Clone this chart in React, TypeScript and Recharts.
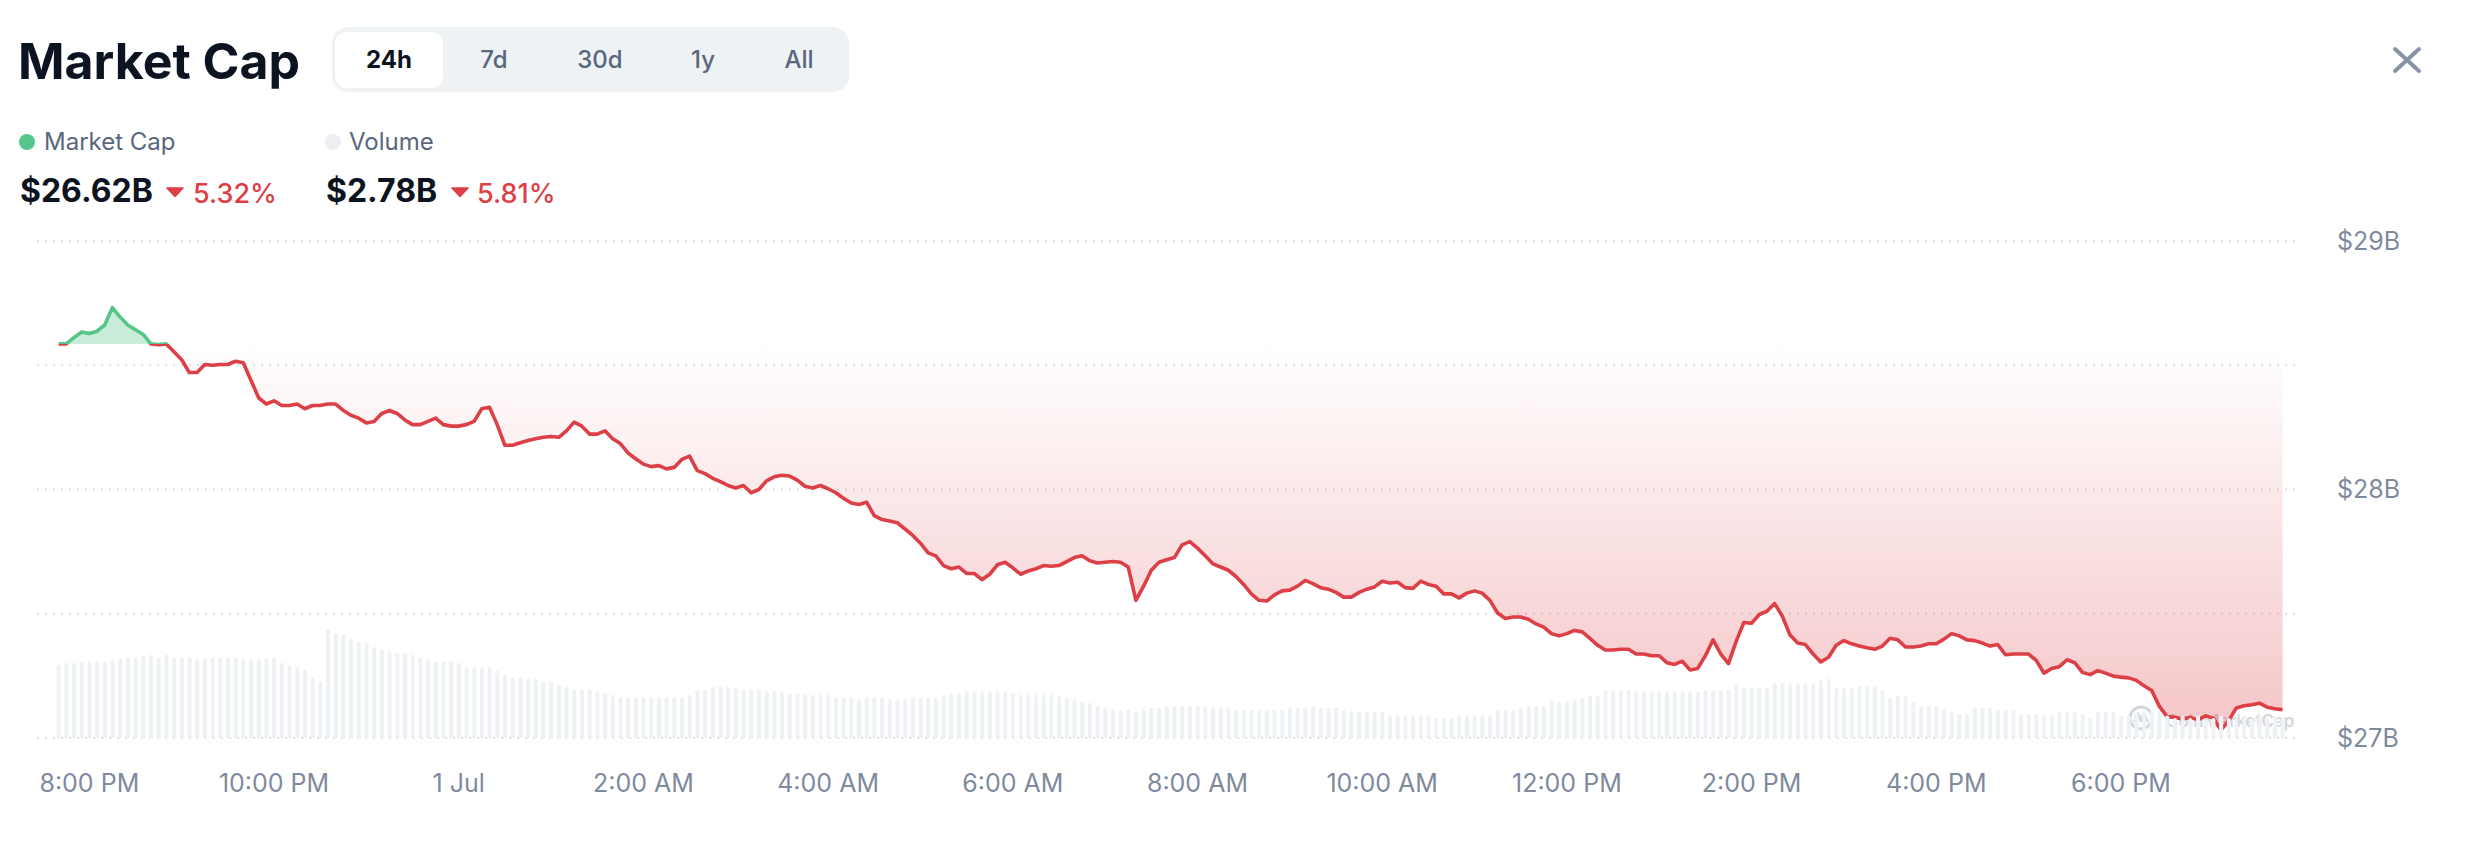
import { ComposedChart, Area, Bar, XAxis, YAxis, CartesianGrid } from 'recharts';

// 5-minute samples starting 30 Jun, 7:40 PM (minutes counted from 30 Jun 00:00)
const START_MINUTE = 19 * 60 + 40;
const STEP_MINUTES = 5;

// market cap, $B
const capValues = [
  28.586, 28.586, 28.611, 28.634, 28.628, 28.637, 28.662, 28.732, 28.694, 28.662,
  28.643, 28.624, 28.586, 28.583, 28.586, 28.554, 28.522, 28.471, 28.471, 28.503,
  28.5, 28.503, 28.503, 28.516, 28.51, 28.44, 28.369, 28.344, 28.357, 28.338,
  28.338, 28.344, 28.325, 28.338, 28.338, 28.344, 28.344, 28.318, 28.299, 28.287,
  28.268, 28.274, 28.306, 28.318, 28.306, 28.28, 28.261, 28.261, 28.274, 28.287,
  28.261, 28.255, 28.255, 28.261, 28.274, 28.325, 28.331, 28.261, 28.178, 28.178,
  28.188, 28.197, 28.204, 28.21, 28.213, 28.21, 28.236, 28.271, 28.255, 28.223,
  28.223, 28.236, 28.204, 28.185, 28.147, 28.124, 28.102, 28.092, 28.096, 28.083,
  28.089, 28.121, 28.134, 28.076, 28.064, 28.045, 28.032, 28.016, 28.006, 28.016,
  27.987, 28.0, 28.035, 28.051, 28.057, 28.054, 28.038, 28.013, 28.006, 28.016,
  28.003, 27.987, 27.965, 27.946, 27.94, 27.949, 27.895, 27.879, 27.873, 27.866,
  27.841, 27.815, 27.784, 27.745, 27.733, 27.694, 27.681, 27.688, 27.662, 27.662,
  27.637, 27.659, 27.697, 27.707, 27.685, 27.659, 27.672, 27.681, 27.694, 27.691,
  27.694, 27.71, 27.726, 27.733, 27.713, 27.704, 27.707, 27.71, 27.707, 27.688,
  27.554, 27.611, 27.675, 27.707, 27.717, 27.726, 27.777, 27.79, 27.764, 27.733,
  27.701, 27.688, 27.675, 27.65, 27.618, 27.58, 27.554, 27.551, 27.576, 27.592,
  27.595, 27.611, 27.634, 27.621, 27.605, 27.599, 27.586, 27.567, 27.567, 27.586,
  27.599, 27.608, 27.631, 27.624, 27.627, 27.605, 27.602, 27.631, 27.618, 27.611,
  27.58, 27.58, 27.564, 27.583, 27.592, 27.583, 27.554, 27.503, 27.481, 27.487,
  27.487, 27.478, 27.459, 27.446, 27.42, 27.411, 27.42, 27.433, 27.427, 27.401,
  27.373, 27.354, 27.354, 27.357, 27.357, 27.338, 27.338, 27.331, 27.331, 27.303,
  27.296, 27.309, 27.274, 27.28, 27.331, 27.395, 27.338, 27.299, 27.389, 27.465,
  27.462, 27.497, 27.51, 27.541, 27.49, 27.414, 27.382, 27.376, 27.338, 27.306,
  27.325, 27.373, 27.392, 27.379, 27.37, 27.363, 27.357, 27.37, 27.401, 27.395,
  27.366, 27.366, 27.37, 27.379, 27.379, 27.398, 27.42, 27.411, 27.395, 27.392,
  27.382, 27.37, 27.376, 27.335, 27.338, 27.338, 27.338, 27.312, 27.261, 27.28,
  27.287, 27.315, 27.303, 27.264, 27.255, 27.271, 27.261, 27.249, 27.245, 27.242,
  27.232, 27.21, 27.191, 27.127, 27.086, 27.083, 27.076, 27.083, 27.073, 27.089,
  27.08, 27.032, 27.07, 27.121, 27.13, 27.134, 27.14, 27.124, 27.118, 27.114,
];

// rolling 24h volume, $B
const volumeValues = [
  3.42, 3.44, 3.44, 3.45, 3.46, 3.46, 3.46, 3.48, 3.49, 3.51,
  3.51, 3.53, 3.54, 3.51, 3.54, 3.51, 3.51, 3.51, 3.49, 3.5,
  3.51, 3.51, 3.51, 3.51, 3.49, 3.49, 3.49, 3.5, 3.51, 3.44,
  3.41, 3.39, 3.36, 3.26, 3.21, 3.86, 3.81, 3.79, 3.74, 3.71,
  3.69, 3.64, 3.61, 3.59, 3.56, 3.56, 3.54, 3.51, 3.49, 3.46,
  3.46, 3.46, 3.44, 3.39, 3.39, 3.39, 3.39, 3.34, 3.29, 3.26,
  3.26, 3.24, 3.24, 3.21, 3.21, 3.16, 3.14, 3.11, 3.11, 3.11,
  3.09, 3.06, 3.04, 3.01, 3.01, 3.01, 3.01, 3.01, 3.01, 3.01,
  3.01, 3.01, 3.04, 3.1, 3.11, 3.14, 3.14, 3.14, 3.13, 3.11,
  3.11, 3.11, 3.09, 3.09, 3.08, 3.06, 3.06, 3.05, 3.04, 3.04,
  3.04, 3.01, 3.01, 3.01, 2.99, 3.01, 3.01, 3.01, 2.99, 2.99,
  2.99, 3.01, 3.01, 3.01, 3.01, 3.04, 3.06, 3.06, 3.09, 3.09,
  3.09, 3.09, 3.09, 3.08, 3.06, 3.04, 3.04, 3.04, 3.04, 3.04,
  3.03, 3.01, 2.99, 2.96, 2.94, 2.9, 2.88, 2.85, 2.85, 2.85,
  2.83, 2.85, 2.88, 2.88, 2.9, 2.9, 2.9, 2.9, 2.9, 2.9,
  2.89, 2.88, 2.88, 2.85, 2.85, 2.85, 2.85, 2.85, 2.85, 2.85,
  2.88, 2.88, 2.88, 2.9, 2.88, 2.88, 2.88, 2.85, 2.83, 2.83,
  2.83, 2.83, 2.83, 2.78, 2.78, 2.78, 2.78, 2.78, 2.78, 2.75,
  2.75, 2.75, 2.78, 2.78, 2.78, 2.78, 2.78, 2.85, 2.85, 2.85,
  2.88, 2.9, 2.9, 2.9, 2.98, 2.95, 2.95, 2.98, 3.0, 3.03,
  3.03, 3.1, 3.1, 3.1, 3.1, 3.08, 3.08, 3.08, 3.08, 3.08,
  3.08, 3.08, 3.08, 3.08, 3.1, 3.1, 3.1, 3.1, 3.18, 3.13,
  3.13, 3.13, 3.13, 3.19, 3.19, 3.19, 3.18, 3.18, 3.18, 3.23,
  3.24, 3.13, 3.13, 3.13, 3.15, 3.15, 3.15, 3.1, 3.0, 3.03,
  3.03, 2.95, 2.9, 2.9, 2.9, 2.85, 2.83, 2.8, 2.8, 2.88,
  2.88, 2.88, 2.85, 2.85, 2.85, 2.8, 2.8, 2.8, 2.78, 2.78,
  2.83, 2.83, 2.83, 2.8, 2.75, 2.83, 2.83, 2.83, 2.78, 2.78,
  2.83, 2.83, 2.83, 2.83, 2.78, 2.75, 2.78, 2.75, 2.78, 2.73,
  2.75, 2.78, 2.75, 2.73, 2.78, 2.75, 2.78, 2.75, 2.78, 2.75,
];

const tickMinutes = [1200, 1320, 1440, 1560, 1680, 1800, 1920, 2040, 2160, 2280, 2400, 2520];
const tickLabels = [
  '8:00 PM', '10:00 PM', '1 Jul', '2:00 AM', '4:00 AM', '6:00 AM',
  '8:00 AM', '10:00 AM', '12:00 PM', '2:00 PM', '4:00 PM', '6:00 PM',
];
const capTicks = [27, 27.5, 28, 28.5, 29];
const ranges = ['24h', '7d', '30d', '1y', 'All'];
const rangeCenters = [389, 494, 600, 703, 799];

const GREEN = '#56c58a';
const RED = '#dd3f46';
const MUTED = '#808a9d';
const LABEL = '#58667e';
const DARK = '#0d1421';

const data = capValues.map((cap, i) => ({
  t: START_MINUTE + i * STEP_MINUTES,
  cap,
  vol: volumeValues[i],
}));

const baseline = capValues[0];
const maxCap = Math.max(...capValues);
const minCap = Math.min(...capValues);
const split = (maxCap - baseline) / (maxCap - minCap);

// places Inter text so that its baseline lands on y
const at = (left: number, baselineY: number, size: number) => ({
  position: 'absolute' as const,
  left,
  top: baselineY - size * 0.8638,
  fontSize: size,
  lineHeight: 1,
  whiteSpace: 'nowrap' as const,
});

function DownTriangle({ left }: { left: number }) {
  return (
    <svg width={18} height={10} style={{ position: 'absolute', left, top: 187 }}>
      <path d="M1 1 L17 1 L9 9.5 Z" fill={RED} stroke={RED} strokeWidth={1.5} strokeLinejoin="round" />
    </svg>
  );
}

export default function App() {
  return (
    <div
      style={{
        position: 'relative',
        width: 2480,
        height: 843,
        overflow: 'hidden',
        background: '#fff',
        fontFamily: 'Inter, "Noto Sans", sans-serif',
      }}
    >
      <style>{'body{margin:0}'}</style>

      <div style={{ ...at(18, 79, 50), fontWeight: 700, color: DARK }}>Market Cap</div>

      <div
        style={{
          position: 'absolute',
          left: 332,
          top: 27,
          width: 517,
          height: 65,
          borderRadius: 16,
          background: '#eff2f5',
        }}
      />
      <div
        style={{
          position: 'absolute',
          left: 335,
          top: 32,
          width: 108,
          height: 56,
          borderRadius: 12,
          background: '#fff',
        }}
      />
      {ranges.map((r, i) => (
        <div
          key={r}
          style={{
            ...at(rangeCenters[i] - 50, 68.5, 24),
            width: 100,
            textAlign: 'center',
            fontWeight: i === 0 ? 700 : 500,
            color: i === 0 ? DARK : LABEL,
          }}
        >
          {r}
        </div>
      ))}

      <svg width={34} height={32} style={{ position: 'absolute', left: 2390, top: 44 }}>
        <path d="M5 5 L29 27 M29 5 L5 27" stroke="#8a93a6" strokeWidth={4} strokeLinecap="round" />
      </svg>

      <div style={{ position: 'absolute', left: 19, top: 134, width: 16, height: 16, borderRadius: 8, background: GREEN }} />
      <div style={{ ...at(44, 151, 24), color: LABEL }}>Market Cap</div>
      <div style={{ position: 'absolute', left: 325, top: 134, width: 16, height: 16, borderRadius: 8, background: '#eceef2' }} />
      <div style={{ ...at(349, 151, 24), color: LABEL }}>Volume</div>

      <div style={{ ...at(20, 203, 32), fontWeight: 700, color: DARK }}>$26.62B</div>
      <DownTriangle left={166} />
      <div style={{ ...at(193, 203, 27), fontWeight: 500, color: RED }}>5.32%</div>
      <div style={{ ...at(326, 203, 32), fontWeight: 700, color: DARK }}>$2.78B</div>
      <DownTriangle left={451} />
      <div style={{ ...at(477, 203, 27), fontWeight: 500, color: RED }}>5.81%</div>

      {/* watermark sits under the chart */}
      <svg width={200} height={40} style={{ position: 'absolute', left: 2124, top: 700 }}>
        <circle cx={17} cy={18} r={11} fill="none" stroke="#d3d7dd" strokeWidth={3} />
        <path d="M10 22 L14 13 L17 21 L20 13 L24 22" fill="none" stroke="#d3d7dd" strokeWidth={2.5} strokeLinejoin="round" />
        <text x={42} y={27} fontSize={17} fontWeight={600} fill="#d3d7dd">
          CoinMarketCap
        </text>
      </svg>

      <div style={{ position: 'absolute', left: 0, top: 0 }}>
        <ComposedChart width={2480} height={843} data={data} margin={{ top: 241, right: 0, bottom: 0, left: 37 }}>
          <defs>
            <linearGradient id="capStroke" x1="0" y1="0" x2="0" y2="1">
              <stop offset={0} stopColor={GREEN} />
              <stop offset={split} stopColor={GREEN} />
              <stop offset={split} stopColor={RED} />
              <stop offset={1} stopColor={RED} />
            </linearGradient>
            <linearGradient id="capFill" x1="0" y1="0" x2="0" y2="1">
              <stop offset={0} stopColor={GREEN} stopOpacity={0.32} />
              <stop offset={split} stopColor={GREEN} stopOpacity={0.32} />
              <stop offset={split} stopColor={RED} stopOpacity={0} />
              <stop offset={1} stopColor={RED} stopOpacity={0.3} />
            </linearGradient>
          </defs>
          <CartesianGrid vertical={false} stroke="#dcdfe5" strokeWidth={2} strokeDasharray="2 6" />
          <XAxis
            dataKey="t"
            type="number"
            domain={[1166, 2637]}
            ticks={tickMinutes}
            interval={0}
            tickFormatter={(v: number) => tickLabels[tickMinutes.indexOf(v)] ?? ''}
            tick={{ fill: MUTED, fontSize: 25 }}
            tickLine={false}
            axisLine={false}
            tickMargin={30}
            height={105}
          />
          <YAxis
            orientation="right"
            domain={[27, 29]}
            ticks={capTicks}
            interval={0}
            tickFormatter={(v: number) => (Number.isInteger(v) ? `$${v}B` : '')}
            tick={{ fill: MUTED, fontSize: 25 }}
            tickLine={false}
            axisLine={false}
            tickMargin={30}
            width={179}
          />
          <YAxis yAxisId="vol" hide domain={[2.5, 8.7125]} />
          <Bar
            dataKey="vol"
            yAxisId="vol"
            barSize={4}
            fill="#eff2f5"
            radius={[2, 2, 0, 0]}
            isAnimationActive={false}
          />
          <Area
            type="linear"
            dataKey="cap"
            baseValue={baseline}
            stroke="url(#capStroke)"
            strokeWidth={3.6}
            strokeLinejoin="round"
            fill="url(#capFill)"
            fillOpacity={1}
            dot={false}
            activeDot={false}
            isAnimationActive={false}
          />
        </ComposedChart>
      </div>
    </div>
  );
}
